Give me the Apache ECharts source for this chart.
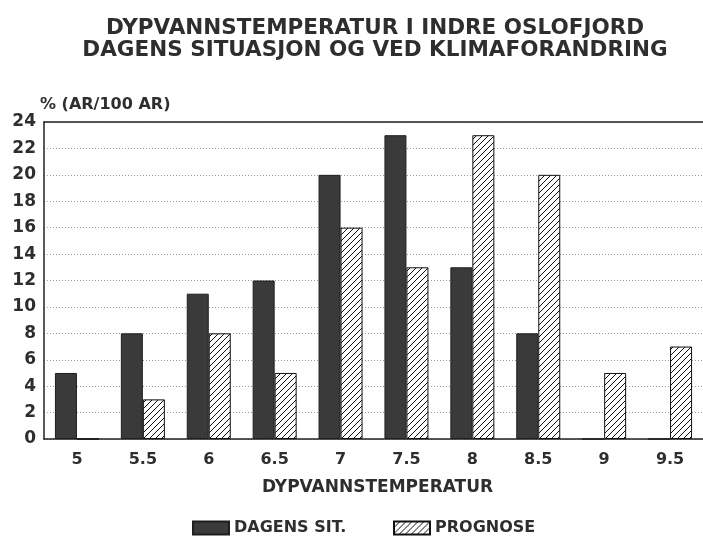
<!DOCTYPE html>
<html>
<head>
<meta charset="utf-8">
<script src="https://cdn.jsdelivr.net/npm/echarts@6/dist/echarts.min.js"></script>
<style>
  html, body { margin: 0; padding: 0; background: #fff; }
  #main { width: 703px; height: 539px; }
</style>
</head>
<body>
<div id="main"></div>
<script>
// dypvannstemperatur (kategorier) og andel år per 100 år
var categories = ['5', '5.5', '6', '6.5', '7', '7.5', '8', '8.5', '9', '9.5']
var dagensSit = [5, 8, 11, 12, 20, 23, 13, 8, 0, 0]
var prognose = [0, 3, 8, 5, 16, 13, 23, 20, 5, 7]
var yTicks = [0, 2, 4, 6, 8, 10, 12, 14, 16, 18, 20, 22, 24]

var FONT = '"DejaVu Sans", Verdana, sans-serif'
var INK = '#2e2e2e'

/** skravert mønster for prognose */
function hatchPattern() {
  var c = document.createElement('canvas')
  c.width = 6
  c.height = 6
  var ctx = c.getContext('2d')
  ctx.fillStyle = '#fff'
  ctx.fillRect(0, 0, 6, 6)
  ctx.strokeStyle = '#111'
  ctx.lineWidth = 1
  ctx.beginPath()
  ctx.moveTo(0, 6)
  ctx.lineTo(6, 0)
  ctx.moveTo(-3, 3)
  ctx.lineTo(3, -3)
  ctx.moveTo(3, 9)
  ctx.lineTo(9, 3)
  ctx.stroke()
  return c
}

var legendText = {
  fontFamily: FONT,
  fontSize: 16,
  fontWeight: 'bold',
  color: INK
}

var chart = echarts.init(document.getElementById('main'))

var option = {
  backgroundColor: '#fff',
  animation: false,
  title: {
    text: 'DYPVANNSTEMPERATUR I INDRE OSLOFJORD\nDAGENS SITUASJON OG VED KLIMAFORANDRING',
    left: 370,
    textAlign: 'center',
    top: 12,
    textStyle: {
      fontFamily: FONT,
      fontSize: 21.5,
      fontWeight: 'bold',
      color: INK,
      lineHeight: 22
    }
  },
  legend: [
    {
      data: ['DAGENS SIT.'],
      left: 192,
      top: 520,
      padding: 0,
      icon: 'rect',
      itemWidth: 36,
      itemHeight: 13,
      textStyle: legendText
    },
    {
      data: ['PROGNOSE'],
      left: 393,
      top: 520,
      padding: 0,
      icon: 'rect',
      itemWidth: 36,
      itemHeight: 13,
      textStyle: legendText
    }
  ],
  grid: {
    left: 44,
    right: -3,
    top: 122,
    bottom: 100
  },
  xAxis: [
    {
      type: 'category',
      data: categories,
      name: 'DYPVANNSTEMPERATUR',
      nameLocation: 'middle',
      nameGap: 40,
      nameTextStyle: {
        fontFamily: FONT,
        fontSize: 17,
        fontWeight: 'bold',
        color: INK,
        padding: [0, 0, 0, 8]
      },
      axisLine: { lineStyle: { color: '#222', width: 1.5 } },
      axisTick: { show: false },
      axisLabel: {
        fontFamily: FONT,
        fontSize: 16,
        fontWeight: 'bold',
        color: INK,
        margin: 13
      }
    },
    {
      /** 顶部边框线 */
      type: 'category',
      data: categories,
      position: 'top',
      axisLine: { show: true, lineStyle: { color: '#222', width: 1.5 } },
      axisTick: { show: false },
      axisLabel: { show: false }
    }
  ],
  yAxis: {
    type: 'value',
    min: yTicks[0],
    max: yTicks[yTicks.length - 1],
    interval: 2,
    name: '% (AR/100 AR)',
    nameLocation: 'end',
    nameGap: 9,
    nameTextStyle: {
      fontFamily: FONT,
      fontSize: 16,
      fontWeight: 'bold',
      color: INK,
      align: 'left',
      padding: [0, 0, 0, -4]
    },
    axisLine: { show: true, lineStyle: { color: '#222', width: 1.5 } },
    axisTick: { show: false },
    axisLabel: {
      fontFamily: FONT,
      fontSize: 17,
      fontWeight: 'bold',
      color: INK,
      margin: 8
    },
    splitLine: {
      show: true,
      lineStyle: { color: '#999', width: 1, type: [1, 2] }
    }
  },
  series: [
    {
      name: 'DAGENS SIT.',
      type: 'bar',
      data: dagensSit,
      barWidth: 22,
      barGap: '0%',
      itemStyle: {
        color: '#3a3a3a',
        borderColor: '#1e1e1e',
        borderWidth: 1
      }
    },
    {
      name: 'PROGNOSE',
      type: 'bar',
      data: prognose,
      barWidth: 22,
      barGap: '0%',
      itemStyle: {
        color: { image: hatchPattern(), repeat: 'repeat' },
        borderColor: '#111',
        borderWidth: 1
      }
    }
  ]
}

chart.setOption(option, true)
</script>
</body>
</html>
